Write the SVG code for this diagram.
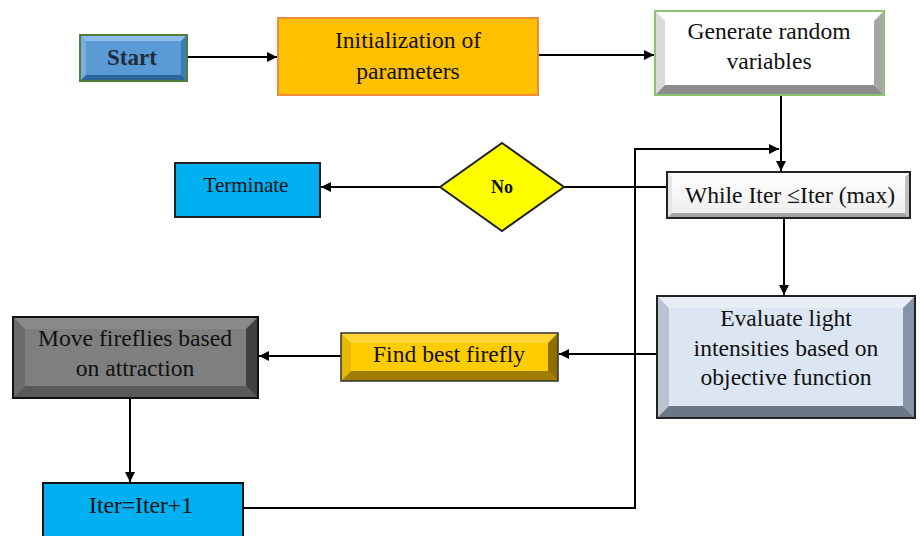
<svg xmlns="http://www.w3.org/2000/svg" width="920" height="536" viewBox="0 0 920 536">
<defs>
<marker id="ah" viewBox="0 0 10 10" refX="10" refY="5" markerWidth="11" markerHeight="10" markerUnits="userSpaceOnUse" orient="auto">
<path d="M0,0 L10,5 L0,10 z" fill="#000"/>
</marker>
<linearGradient id="wg" x1="0" y1="0" x2="0" y2="1">
<stop offset="0" stop-color="#FFFFFF"/><stop offset="1" stop-color="#EDEDED"/>
</linearGradient>
</defs>
<style>
text{font-family:"Liberation Serif","DejaVu Serif",serif;fill:#111;text-anchor:middle}
.t{font-size:23.6px}
.c{fill:none;stroke:#000;stroke-width:2}
</style>
<rect width="920" height="536" fill="#fff"/>

<g id="connectors">
<line class="c" x1="187" y1="57" x2="277" y2="57" marker-end="url(#ah)"/>
<line class="c" x1="538" y1="55" x2="654" y2="55" marker-end="url(#ah)"/>
<line class="c" x1="781" y1="95" x2="781" y2="171" marker-end="url(#ah)"/>
<polyline class="c" points="243,508 635,508 635,149 779,149" marker-end="url(#ah)"/>
<line class="c" x1="667" y1="187" x2="564" y2="187"/>
<line class="c" x1="440" y1="187" x2="321" y2="187" marker-end="url(#ah)"/>
<line class="c" x1="784" y1="218" x2="784" y2="295" marker-end="url(#ah)"/>
<line class="c" x1="657" y1="354" x2="559" y2="354" marker-end="url(#ah)"/>
<line class="c" x1="341" y1="356" x2="259" y2="356" marker-end="url(#ah)"/>
<line class="c" x1="130" y1="398" x2="130" y2="482" marker-end="url(#ah)"/>
</g>

<g id="start">
<rect x="80" y="35" width="107" height="46" fill="#5B9BD5"/>
<polygon points="80,35 187,35 181,41 86,41" fill="#8DBDE8"/>
<polygon points="80,35 86,41 86,75 80,81" fill="#7AAEDF"/>
<polygon points="187,35 187,81 181,75 181,41" fill="#3F7DB5"/>
<polygon points="80,81 86,75 181,75 187,81" fill="#2F6699"/>
<rect x="80" y="35" width="107" height="46" fill="none" stroke="#4E7F3A" stroke-width="2"/>
<text x="132" y="65" font-size="23" font-weight="bold" style="fill:#1F2D3D">Start</text>
</g>

<g id="init">
<rect x="278" y="18" width="260" height="77" fill="#FFC000" stroke="#F28A3C" stroke-width="2"/>
<text x="408" y="48" class="t">Initialization of</text>
<text x="408" y="79" class="t">parameters</text>
</g>

<g id="generate">
<rect x="655" y="11" width="229" height="84" fill="#FFFFFF"/>
<polygon points="655,11 665,21 665,85 655,95" fill="#D9D9D9"/>
<polygon points="884,11 884,95 874,85 874,21" fill="#A6A6A6"/>
<polygon points="655,95 665,85 874,85 884,95" fill="#8C8C8C"/>
<rect x="655" y="11" width="229" height="84" fill="none" stroke="#8DC26F" stroke-width="2"/>
<text x="769" y="39" class="t">Generate random</text>
<text x="769" y="69" class="t">variables</text>
</g>

<g id="while">
<rect x="667" y="172" width="243" height="46" fill="url(#wg)"/>
<polygon points="667,172 910,172 905,177 672,177" fill="#FAFAFA"/>
<polygon points="667,172 672,177 672,213 667,218" fill="#E6E6E6"/>
<polygon points="910,172 910,218 905,213 905,177" fill="#BFBFBF"/>
<polygon points="667,218 672,213 905,213 910,218" fill="#A6A6A6"/>
<rect x="667" y="172" width="243" height="46" fill="none" stroke="#222" stroke-width="2"/>
<text x="790" y="203" class="t">While Iter ≤Iter (max)</text>
</g>

<g id="decision">
<polygon points="502,143 564,187 502,231 440,187" fill="#FFFF00" stroke="#222" stroke-width="2"/>
<text x="502" y="193" font-size="18" font-weight="bold">No</text>
</g>

<g id="terminate">
<rect x="175" y="163" width="145" height="54" fill="#00B0F0" stroke="#222" stroke-width="2"/>
<text x="246" y="192" font-size="21">Terminate</text>
</g>

<g id="evaluate">
<rect x="657" y="296" width="258" height="122" fill="#DCE6F2"/>
<polygon points="657,296 915,296 903,308 669,308" fill="#E8EEF6"/>
<polygon points="657,296 669,308 669,406 657,418" fill="#B9C4D3"/>
<polygon points="915,296 915,418 903,406 903,308" fill="#8794A6"/>
<polygon points="657,418 669,406 903,406 915,418" fill="#6B7686"/>
<rect x="657" y="296" width="258" height="122" fill="none" stroke="#222" stroke-width="2"/>
<text x="786" y="326" class="t">Evaluate light</text>
<text x="786" y="356" class="t">intensities based on</text>
<text x="786" y="385" class="t">objective function</text>
</g>

<g id="findbest">
<rect x="341" y="333" width="217" height="48" fill="#FFCC00"/>
<polygon points="341,333 558,333 548,343 351,343" fill="#FFD633"/>
<polygon points="341,333 351,343 351,371 341,381" fill="#E6B800"/>
<polygon points="558,333 558,381 548,371 548,343" fill="#8F6F00"/>
<polygon points="341,381 351,371 548,371 558,381" fill="#A07D00"/>
<rect x="341" y="333" width="217" height="48" fill="none" stroke="#333" stroke-width="1.5"/>
<text x="449" y="362" class="t">Find best firefly</text>
</g>

<g id="move">
<rect x="13" y="317" width="245" height="81" fill="#7F7F7F"/>
<polygon points="13,317 258,317 246,329 25,329" fill="#8A8A8A"/>
<polygon points="13,317 25,329 25,386 13,398" fill="#6A6A6A"/>
<polygon points="258,317 258,398 246,386 246,329" fill="#404040"/>
<polygon points="13,398 25,386 246,386 258,398" fill="#595959"/>
<rect x="13" y="317" width="245" height="81" fill="none" stroke="#111" stroke-width="2"/>
<text x="135" y="346" class="t">Move fireflies based</text>
<text x="135" y="376" class="t">on attraction</text>
</g>

<g id="iter">
<rect x="43" y="483" width="200" height="60" fill="#00B0F0" stroke="#111" stroke-width="2"/>
<text x="141" y="513" class="t">Iter=Iter+1</text>
</g>
</svg>
